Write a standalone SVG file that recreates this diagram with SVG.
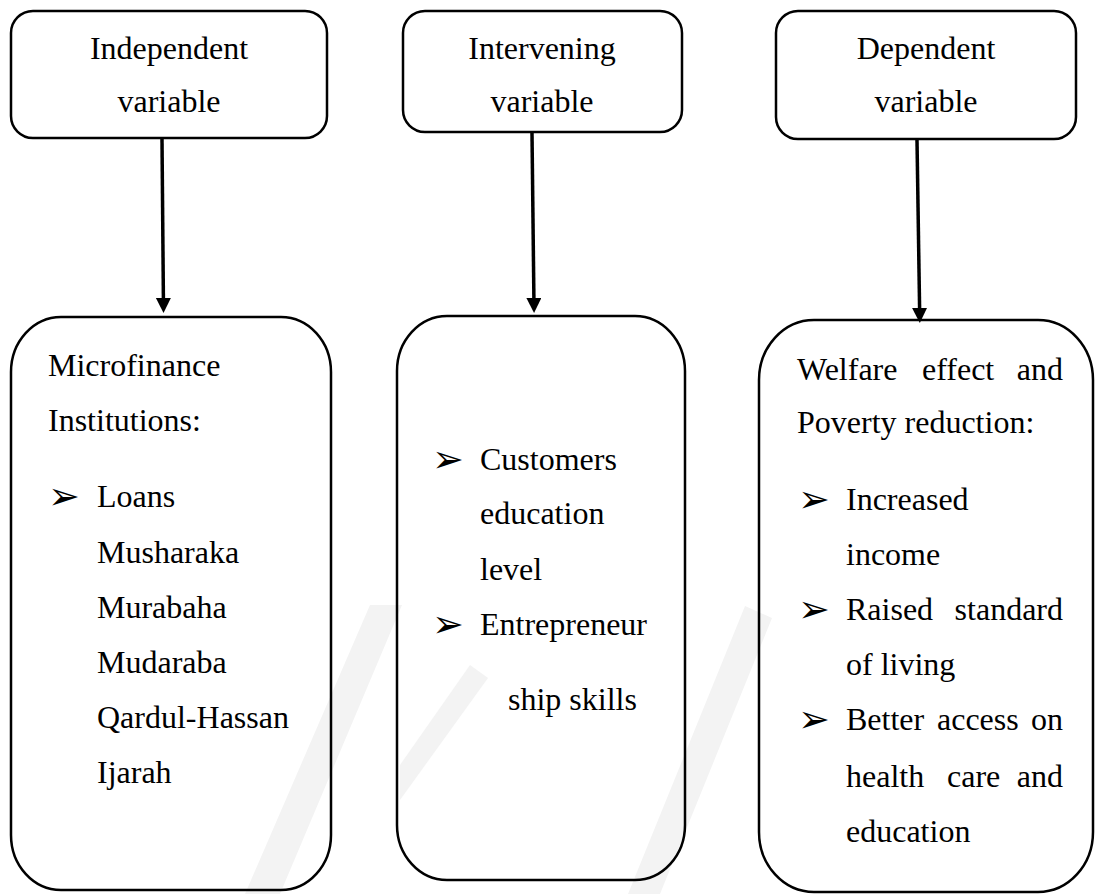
<svg xmlns="http://www.w3.org/2000/svg" width="1097" height="894" viewBox="0 0 1097 894">
<style>
.box{fill:none;stroke:#000;stroke-width:2.5}
.c{text-anchor:middle}
.e{text-anchor:end}
.conn{stroke:#000;stroke-width:3.5;fill:none}
.wm{fill:#f3f3f3}
</style>
<defs>
<marker id="ah" markerUnits="userSpaceOnUse" markerWidth="16" markerHeight="16" refX="1" refY="7.5" orient="auto">
<path d="M0,0 L15,7.5 L0,15 z" fill="#000"/>
</marker>
</defs>
<rect width="1097" height="894" fill="#fff"/>
<g id="watermark">
<polygon class="wm" points="245,894 280,894 402,605 370,605"/>
<polygon class="wm" points="628,894 660,894 772,618 745,606"/>
<polygon class="wm" points="400,800 400,765 470,665 488,678"/>
</g>
<g id="connectors">
<line class="conn" x1="162" y1="139" x2="163.4" y2="299" marker-end="url(#ah)"/>
<line class="conn" x1="532" y1="133" x2="533.9" y2="299" marker-end="url(#ah)"/>
<line class="conn" x1="917" y1="140" x2="919.6" y2="309" marker-end="url(#ah)"/>
</g>
<g font-family="Liberation Serif" font-size="32" fill="#000">
<g id="independent">
<rect class="box" x="11" y="11" width="316" height="127" rx="22"/>
<text class="c" x="169" y="59">Independent</text>
<text class="c" x="169" y="112">variable</text>
</g>
<g id="intervening">
<rect class="box" x="403" y="11" width="279" height="121" rx="22"/>
<text class="c" x="542" y="59">Intervening</text>
<text class="c" x="542" y="112">variable</text>
</g>
<g id="dependent">
<rect class="box" x="776" y="11" width="300" height="128" rx="22"/>
<text class="c" x="926" y="59">Dependent</text>
<text class="c" x="926" y="112">variable</text>
</g>
<g id="microfinance">
<rect class="box" x="11" y="317" width="320" height="573" rx="50" ry="55"/>
<text x="48" y="376">Microfinance</text>
<text x="48" y="431">Institutions:</text>
<text font-family="DejaVu Sans" font-size="38" x="48" y="509">➢</text>
<text x="97" y="507">Loans</text>
<text x="97" y="563">Musharaka</text>
<text x="97" y="618">Murabaha</text>
<text x="97" y="673">Mudaraba</text>
<text x="97" y="728">Qardul-Hassan</text>
<text x="97" y="783">Ijarah</text>
</g>
<g id="intervening-detail">
<rect class="box" x="397" y="316" width="288" height="564" rx="50" ry="55"/>
<text font-family="DejaVu Sans" font-size="38" x="432" y="472">➢</text>
<text x="480" y="470">Customers</text>
<text x="480" y="524">education</text>
<text x="480" y="580">level</text>
<text font-family="DejaVu Sans" font-size="38" x="432" y="637">➢</text>
<text x="480" y="635">Entrepreneur</text>
<text x="508" y="710">ship skills</text>
</g>
<g id="welfare">
<rect class="box" x="759" y="320" width="334" height="572" rx="55" ry="60"/>
<text><tspan x="797" y="380">Welfare</tspan> <tspan x="922" y="380">effect</tspan> <tspan class="e" x="1063" y="380">and</tspan></text>
<text x="797" y="433">Poverty reduction:</text>
<text font-family="DejaVu Sans" font-size="38" x="798" y="512">➢</text>
<text x="846" y="510">Increased</text>
<text x="846" y="565">income</text>
<text font-family="DejaVu Sans" font-size="38" x="798" y="622">➢</text>
<text><tspan x="846" y="620">Raised</tspan> <tspan class="e" x="1063" y="620">standard</tspan></text>
<text x="846" y="675">of living</text>
<text font-family="DejaVu Sans" font-size="38" x="798" y="732">➢</text>
<text><tspan x="846" y="730">Better</tspan> <tspan x="937" y="730">access</tspan> <tspan class="e" x="1063" y="730">on</tspan></text>
<text><tspan x="846" y="787">health</tspan> <tspan x="947" y="787">care</tspan> <tspan class="e" x="1063" y="787">and</tspan></text>
<text x="846" y="842">education</text>
</g>
</g>
</svg>
